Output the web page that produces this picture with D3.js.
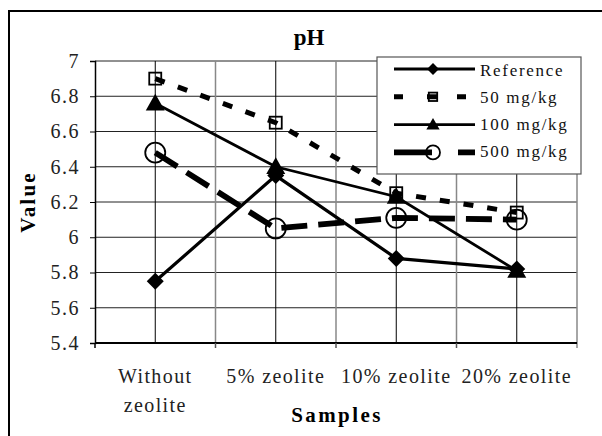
<!DOCTYPE html>
<html>
<head>
<meta charset="utf-8">
<script src="https://cdn.jsdelivr.net/npm/d3@7"></script>
<style>
  body { margin: 0; background: #fff; }
</style>
</head>
<body>
<div id="chart"></div>
<script>
// pH line chart - zeolite samples

const categories = ["Without zeolite", "5% zeolite", "10% zeolite", "20% zeolite"];
const yTicks = [5.4, 5.6, 5.8, 6, 6.2, 6.4, 6.6, 6.8, 7];

const seriesNames = ["Reference", "50 mg/kg", "100 mg/kg", "500 mg/kg"];
const reference = [5.75, 6.35, 5.88, 5.82];
const mg50 = [6.9, 6.65, 6.25, 6.14];
const mg100 = [6.76, 6.4, 6.23, 5.81];
const mg500 = [6.48, 6.05, 6.11, 6.1];

const FONT = '"Liberation Serif"';

const width = 602, height = 436;
const margin = { top: 61, right: 25, bottom: 93, left: 95 };
const plot_width = width - margin.left - margin.right;
const plot_height = height - margin.top - margin.bottom;

// per-series look
const styles = [
  { values: reference, marker: "diamond",  width: 3.2, dash: null    },
  { values: mg50,      marker: "square",   width: 5,   dash: "10,14" },
  { values: mg100,     marker: "triangle", width: 2.8, dash: null    },
  { values: mg500,     marker: "circle",   width: 5.8, dash: "26,11" },
];

const svg = d3.select("#chart").append("svg")
  .attr("width", width)
  .attr("height", height);

// outer frame (right and bottom run off the picture)
svg.append("rect")
  .attr("x", 9).attr("y", 11)
  .attr("width", 610).attr("height", 440)
  .attr("fill", "none").attr("stroke", "#000").attr("stroke-width", 2);

const plot = svg.append("g")
  .attr("transform", `translate(${margin.left}, ${margin.top})`);

const x = d3.scaleBand().domain(categories).range([0, plot_width]).padding(0);
const y = d3.scaleLinear().domain([5.4, 7]).range([plot_height, 0]);
const cx = d => x(d) + x.bandwidth() / 2;

// ── Gridlines ──────────────────────────────────────────────────────────
yTicks.forEach(t => {
  plot.append("line")
    .attr("x1", 0).attr("x2", plot_width)
    .attr("y1", y(t)).attr("y2", y(t))
    .attr("stroke", "#222").attr("stroke-width", 1);
});

categories.forEach(c => {
  plot.append("line")
    .attr("x1", cx(c)).attr("x2", cx(c))
    .attr("y1", 0).attr("y2", plot_height)
    .attr("stroke", "#000").attr("stroke-width", 1);
  plot.append("line")
    .attr("x1", x(c) + x.bandwidth()).attr("x2", x(c) + x.bandwidth())
    .attr("y1", 0).attr("y2", plot_height + (c === categories[3] ? 5 : 0))
    .attr("stroke", "#888").attr("stroke-width", 1.5);
});

// ── Axes ───────────────────────────────────────────────────────────────
const yAxis = plot.append("g")
  .call(d3.axisLeft(y).tickValues(yTicks).tickSize(5).tickFormat(d3.format("")));
yAxis.select(".domain").attr("stroke", "#000").attr("stroke-width", 1.5);
yAxis.selectAll(".tick line").attr("stroke", "#000");
yAxis.selectAll("text")
  .style("font-family", FONT)
  .attr("font-size", 20).attr("letter-spacing", 1.5)
  .attr("fill", "#222").attr("x", -15);

const xAxis = plot.append("g")
  .attr("transform", `translate(0, ${plot_height})`);
xAxis.append("line")
  .attr("x1", 0).attr("x2", plot_width)
  .attr("stroke", "#000").attr("stroke-width", 2);
[0, 1, 2].forEach(i => {
  const bx = x(categories[i]) + x.bandwidth();
  xAxis.append("line")
    .attr("x1", bx).attr("x2", bx).attr("y1", 0).attr("y2", 5)
    .attr("stroke", "#555").attr("stroke-width", 1.5);
});
xAxis.append("line")
  .attr("x1", 0).attr("x2", 0).attr("y1", 0).attr("y2", 5)
  .attr("stroke", "#000").attr("stroke-width", 1.5);

const catLines = [["Without", "zeolite"], ["5% zeolite"], ["10% zeolite"], ["20% zeolite"]];
categories.forEach((c, i) => {
  const t = xAxis.append("text")
    .attr("x", cx(c)).attr("y", 40)
    .attr("text-anchor", "middle")
    .style("font-family", FONT)
    .attr("font-size", 20).attr("letter-spacing", 1.4).attr("fill", "#222");
  catLines[i].forEach((ln, j) => {
    t.append("tspan").attr("x", cx(c)).attr("dy", j === 0 ? 0 : 29).text(ln);
  });
});

// titles
svg.append("text")
  .attr("x", 309).attr("y", 45)
  .attr("text-anchor", "middle")
  .style("font-family", FONT)
  .attr("font-size", 23).attr("font-weight", "bold")
  .text("pH");

svg.append("text")
  .attr("x", 337).attr("y", 422)
  .attr("text-anchor", "middle")
  .style("font-family", FONT)
  .attr("font-size", 21).attr("font-weight", "bold").attr("letter-spacing", 2.4)
  .text("Samples");

svg.append("text")
  .attr("transform", "translate(35, 202) rotate(-90)")
  .attr("text-anchor", "middle")
  .style("font-family", FONT)
  .attr("font-size", 21).attr("font-weight", "bold").attr("letter-spacing", 2.2)
  .text("Value");

// ── Markers ────────────────────────────────────────────────────────────
function drawMarker(g, kind, px, py, k = 1) {
  if (kind === "diamond") {
    const r = 8.5 * k;
    g.append("path")
      .attr("d", `M${px},${py - r}L${px + r},${py}L${px},${py + r}L${px - r},${py}Z`)
      .attr("fill", "#000");
  } else if (kind === "square") {
    const r = 6 * k;
    g.append("rect")
      .attr("x", px - r).attr("y", py - r).attr("width", 2 * r).attr("height", 2 * r)
      .attr("fill", "none").attr("stroke", "#000").attr("stroke-width", 1.8);
  } else if (kind === "triangle") {
    const r = 9.5 * k;
    g.append("path")
      .attr("d", `M${px},${py - r}L${px + r},${py + r * 0.75}L${px - r},${py + r * 0.75}Z`)
      .attr("fill", "#000");
  } else {
    g.append("circle")
      .attr("cx", px).attr("cy", py).attr("r", 10 * k)
      .attr("fill", "none").attr("stroke", "#000").attr("stroke-width", 1.8);
  }
}

// ── Lines ──────────────────────────────────────────────────────────────
const line = d3.line().x((d, i) => cx(categories[i])).y(d => y(d));

styles.forEach(s => {
  plot.append("path")
    .datum(s.values)
    .attr("d", line)
    .attr("fill", "none")
    .attr("stroke", "#000")
    .attr("stroke-width", s.width)
    .attr("stroke-dasharray", s.dash);
});
styles.forEach(s => {
  s.values.forEach((v, i) => drawMarker(plot, s.marker, cx(categories[i]), y(v)));
});

// ── Legend ─────────────────────────────────────────────────────────────
const legend = svg.append("g").attr("transform", "translate(377, 57)");
legend.append("rect")
  .attr("width", 204).attr("height", 117)
  .attr("fill", "#fff").attr("stroke", "#555").attr("stroke-width", 1.2);

seriesNames.forEach((name, i) => {
  const s = styles[i];
  const ly = 12 + i * 27.8;
  legend.append("line")
    .attr("x1", 17).attr("x2", 98).attr("y1", ly).attr("y2", ly)
    .attr("stroke", "#000").attr("stroke-width", s.width)
    .attr("stroke-dasharray", i === 1 ? "9,24,10,20" : i === 3 ? "38,26" : null);
  drawMarker(legend, s.marker, 56, ly, 0.7);
  legend.append("text")
    .attr("x", 103).attr("y", 19 + i * 27)
    .style("font-family", FONT)
    .attr("font-size", 17).attr("letter-spacing", 1.7)
    .attr("fill", "#111")
    .text(name);
});
</script>
</body>
</html>
